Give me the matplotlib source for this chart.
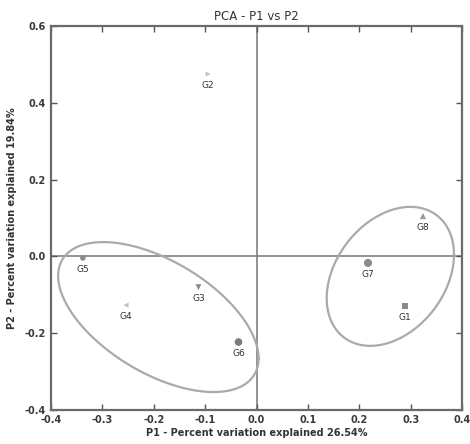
import numpy as np
import matplotlib
matplotlib.use("Agg")
import matplotlib.pyplot as plt

labels = ["G1", "G2", "G3", "G4", "G5", "G6", "G7", "G8"]
p1 = [0.289, -0.094, -0.113, -0.254, -0.338, -0.035, 0.217, 0.324]
p2 = [-0.129, 0.475, -0.080, -0.127, -0.004, -0.223, -0.017, 0.105]
markers = ["s", ">", "v", "<", "o", "o", "o", "^"]
sizes = [22, 14, 18, 14, 16, 30, 34, 20]
colors = ["#8a8a8a", "#c4c4c4", "#8a8a8a", "#c0c0c0", "#8a8a8a", "#7a7a7a", "#8a8a8a", "#9a9a9a"]

# group ellipses: center, x half-extent, y half-extent, x offset of top point
ell_centers = [(-0.191, -0.158), (0.2605, -0.052)]
ell_xext = [0.1951, 0.1239]
ell_yext = [0.1953, 0.181]
ell_topoff = [-0.1073, 0.039]

fig = plt.figure(figsize=(4.7, 4.44), dpi=100)
ax = fig.add_axes([0.1085, 0.0766, 0.8745, 0.8648])
ax.set_xlim(-0.4, 0.4)
ax.set_ylim(-0.4, 0.6)

ax.axhline(0, color="#808080", lw=1.2, zorder=1)
ax.axvline(0, color="#808080", lw=1.2, zorder=1)

for (cx, cy), xe, ye, to in zip(ell_centers, ell_xext, ell_yext, ell_topoff):
    sxx, syy, sxy = xe**2, ye**2, to * ye
    t = np.linspace(0, 2*np.pi, 300)
    cov = np.array([[sxx, sxy], [sxy, syy]])
    L = np.linalg.cholesky(cov)
    pts = L @ np.vstack([np.cos(t), np.sin(t)])
    ax.plot(cx + pts[0], cy + pts[1], color="#aaaaaa", lw=1.6, zorder=2)

for x, y, m, s, c, lab in zip(p1, p2, markers, sizes, colors, labels):
    ax.scatter([x], [y], marker=m, s=s, color=c, edgecolors="none", zorder=3)
    ax.annotate(lab, (x, y), xytext=(0, -8), textcoords="offset points",
                ha="center", va="center", fontsize=6.5, color="#333333")

ax.set_xticks(np.arange(-0.4, 0.41, 0.1))
ax.set_xticklabels(["-0.4", "-0.3", "-0.2", "-0.1", "0.0", "0.1", "0.2", "0.3", "0.4"])
ax.set_yticks([-0.4, -0.2, 0.0, 0.2, 0.4, 0.6])
ax.set_yticklabels(["-0.4", "-0.2", "0.0", "0.2", "0.4", "0.6"])
ax.tick_params(direction="in", top=True, right=True, labelsize=7, colors="#555555",
               labelcolor="#3a3a3a", length=4, width=1)
for lbl in ax.get_xticklabels() + ax.get_yticklabels():
    lbl.set_fontweight("bold")
for sp in ax.spines.values():
    sp.set_color("#6a6a6a")
    sp.set_linewidth(1.6)

ax.set_title("PCA - P1 vs P2", fontsize=8.5, color="#333333", pad=4)
ax.set_xlabel("P1 - Percent variation explained 26.54%", fontsize=7, color="#333333",
              fontweight="bold", labelpad=2)
ax.set_ylabel("P2 - Percent variation explained 19.84%", fontsize=7, color="#333333",
              fontweight="bold", labelpad=6)

fig.savefig("out.png", dpi=100)
